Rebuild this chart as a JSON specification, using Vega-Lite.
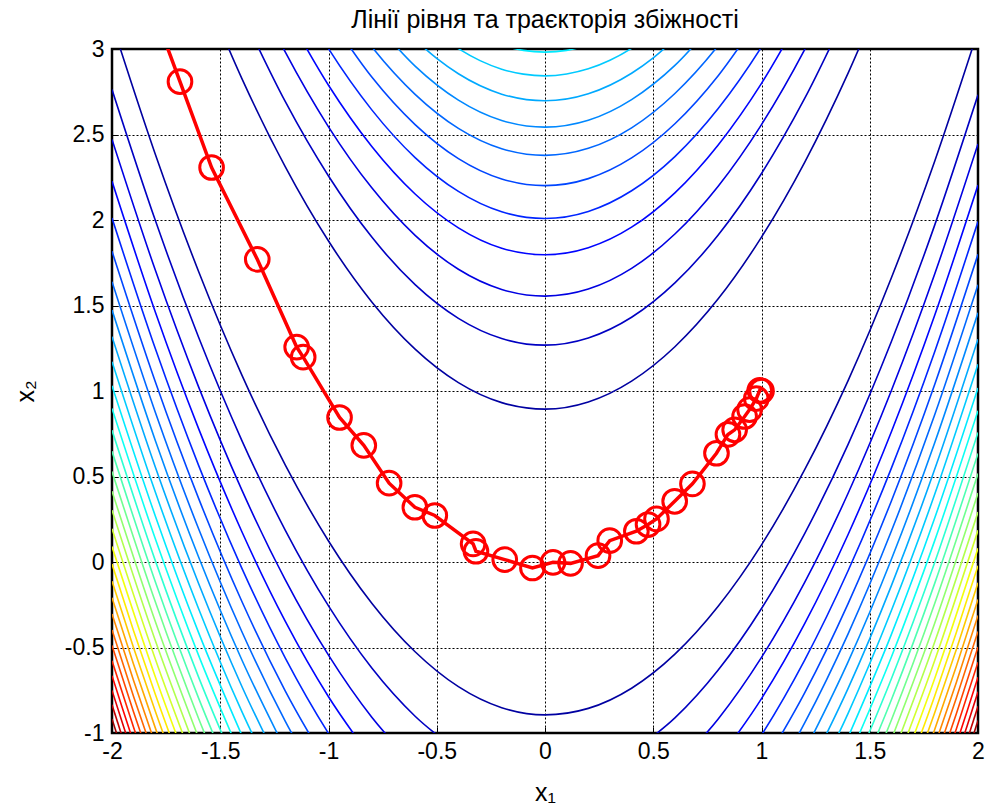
{
  "$schema": "https://vega.github.io/schema/vega-lite/v6.json",
  "width": 866,
  "height": 684,
  "autosize": {"type": "none"},
  "padding": {"left": 112, "top": 49, "right": 12, "bottom": 78},
  "background": "white",
  "title": {"text": "Лінії рівня та траєкторія збіжності", "font": "Liberation Sans", "fontSize": 25, "fontWeight": "normal", "color": "#000", "offset": 5, "anchor": "middle"},
  "config": {
    "view": {"stroke": "#000", "strokeWidth": 2.5},
    "axis": {"grid": true, "gridColor": "#000", "gridDash": [2, 2], "gridOpacity": 1, "gridWidth": 1, "domain": false, "ticks": true, "tickSize": -6, "tickColor": "#000", "tickWidth": 1, "labelFont": "Liberation Sans", "labelFontSize": 23, "labelColor": "#000", "titleFont": "Liberation Sans", "titleFontSize": 25, "titleFontWeight": "normal", "titleColor": "#000", "labelFlush": false, "labelOverlap": false},
    "axisX": {"labelPadding": 13, "titlePadding": 17},
    "axisY": {"labelPadding": 14, "titlePadding": 26}
  },
  "datasets": {
    "contours": [
      {"k":1,"p":"1U","x":-1.6,"y":3.421},{"k":1,"p":"1U","x":-1.4,"y":2.827},{"k":1,"p":"1U","x":-1.2,"y":2.312},{"k":1,"p":"1U","x":-1.0,"y":1.877},{"k":1,"p":"1U","x":-0.8,"y":1.521},{"k":1,"p":"1U","x":-0.6,"y":1.245},{"k":1,"p":"1U","x":-0.4,"y":1.049},{"k":1,"p":"1U","x":-0.2,"y":0.932},{"k":1,"p":"1U","x":0,"y":0.894},{"k":1,"p":"1U","x":0.2,"y":0.936},{"k":1,"p":"1U","x":0.4,"y":1.058},{"k":1,"p":"1U","x":0.6,"y":1.259},{"k":1,"p":"1U","x":0.8,"y":1.539},{"k":1,"p":"1U","x":1.0,"y":1.900},{"k":1,"p":"1U","x":1.2,"y":2.339},{"k":1,"p":"1U","x":1.4,"y":2.859},{"k":1,"p":"1U","x":1.6,"y":3.458},
      {"k":1,"p":"1L","x":-2,"y":3.152},{"k":1,"p":"1L","x":-1.8,"y":2.385},{"k":1,"p":"1L","x":-1.6,"y":1.699},{"k":1,"p":"1L","x":-1.4,"y":1.093},{"k":1,"p":"1L","x":-1.2,"y":0.568},{"k":1,"p":"1L","x":-1.0,"y":0.123},{"k":1,"p":"1L","x":-0.8,"y":-0.241},{"k":1,"p":"1L","x":-0.6,"y":-0.525},{"k":1,"p":"1L","x":-0.4,"y":-0.729},{"k":1,"p":"1L","x":-0.2,"y":-0.852},{"k":1,"p":"1L","x":0,"y":-0.894},{"k":1,"p":"1L","x":0.2,"y":-0.856},{"k":1,"p":"1L","x":0.4,"y":-0.738},{"k":1,"p":"1L","x":0.6,"y":-0.539},{"k":1,"p":"1L","x":0.8,"y":-0.259},{"k":1,"p":"1L","x":1.0,"y":0.100},{"k":1,"p":"1L","x":1.2,"y":0.541},{"k":1,"p":"1L","x":1.4,"y":1.061},{"k":1,"p":"1L","x":1.6,"y":1.662},{"k":1,"p":"1L","x":1.8,"y":2.344},{"k":1,"p":"1L","x":2.0,"y":3.106},
      {"k":2,"p":"2U","x":-1.4,"y":3.210},{"k":2,"p":"2U","x":-1.2,"y":2.693},{"k":2,"p":"2U","x":-1.0,"y":2.257},{"k":2,"p":"2U","x":-0.8,"y":1.900},{"k":2,"p":"2U","x":-0.6,"y":1.622},{"k":2,"p":"2U","x":-0.4,"y":1.425},{"k":2,"p":"2U","x":-0.2,"y":1.307},{"k":2,"p":"2U","x":0,"y":1.268},{"k":2,"p":"2U","x":0.2,"y":1.310},{"k":2,"p":"2U","x":0.4,"y":1.431},{"k":2,"p":"2U","x":0.6,"y":1.632},{"k":2,"p":"2U","x":0.8,"y":1.912},{"k":2,"p":"2U","x":1.0,"y":2.272},{"k":2,"p":"2U","x":1.2,"y":2.712},{"k":2,"p":"2U","x":1.4,"y":3.232},
      {"k":2,"p":"2A","x":-2,"y":2.763},{"k":2,"p":"2A","x":-1.8,"y":1.998},{"k":2,"p":"2A","x":-1.6,"y":1.314},{"k":2,"p":"2A","x":-1.4,"y":0.710},{"k":2,"p":"2A","x":-1.2,"y":0.187},{"k":2,"p":"2A","x":-1.0,"y":-0.257},{"k":2,"p":"2A","x":-0.8,"y":-0.620},{"k":2,"p":"2A","x":-0.6,"y":-0.902},{"k":2,"p":"2A","x":-0.4,"y":-1.105},
      {"k":2,"p":"2B","x":0.4,"y":-1.111},{"k":2,"p":"2B","x":0.6,"y":-0.912},{"k":2,"p":"2B","x":0.8,"y":-0.632},{"k":2,"p":"2B","x":1.0,"y":-0.272},{"k":2,"p":"2B","x":1.2,"y":0.168},{"k":2,"p":"2B","x":1.4,"y":0.688},{"k":2,"p":"2B","x":1.6,"y":1.289},{"k":2,"p":"2B","x":1.8,"y":1.970},{"k":2,"p":"2B","x":2.0,"y":2.732},
      {"k":3,"p":"3U","x":-1.4,"y":3.500},{"k":3,"p":"3U","x":-1.2,"y":2.983},{"k":3,"p":"3U","x":-1.0,"y":2.545},{"k":3,"p":"3U","x":-0.8,"y":2.188},{"k":3,"p":"3U","x":-0.6,"y":1.910},{"k":3,"p":"3U","x":-0.4,"y":1.712},{"k":3,"p":"3U","x":-0.2,"y":1.594},{"k":3,"p":"3U","x":0,"y":1.555},{"k":3,"p":"3U","x":0.2,"y":1.596},{"k":3,"p":"3U","x":0.4,"y":1.717},{"k":3,"p":"3U","x":0.6,"y":1.918},{"k":3,"p":"3U","x":0.8,"y":2.198},{"k":3,"p":"3U","x":1.0,"y":2.558},{"k":3,"p":"3U","x":1.2,"y":2.998},{"k":3,"p":"3U","x":1.4,"y":3.518},
      {"k":3,"p":"3A","x":-2,"y":2.471},{"k":3,"p":"3A","x":-1.8,"y":1.707},{"k":3,"p":"3A","x":-1.6,"y":1.024},{"k":3,"p":"3A","x":-1.4,"y":0.420},{"k":3,"p":"3A","x":-1.2,"y":-0.103},{"k":3,"p":"3A","x":-1.0,"y":-0.545},{"k":3,"p":"3A","x":-0.8,"y":-0.908},{"k":3,"p":"3A","x":-0.6,"y":-1.190},
      {"k":3,"p":"3B","x":0.6,"y":-1.198},{"k":3,"p":"3B","x":0.8,"y":-0.918},{"k":3,"p":"3B","x":1.0,"y":-0.558},{"k":3,"p":"3B","x":1.2,"y":-0.118},{"k":3,"p":"3B","x":1.4,"y":0.402},{"k":3,"p":"3B","x":1.6,"y":1.003},{"k":3,"p":"3B","x":1.8,"y":1.684},{"k":3,"p":"3B","x":2.0,"y":2.445},
      {"k":4,"p":"4U","x":-1.2,"y":3.226},{"k":4,"p":"4U","x":-1.0,"y":2.788},{"k":4,"p":"4U","x":-0.8,"y":2.430},{"k":4,"p":"4U","x":-0.6,"y":2.152},{"k":4,"p":"4U","x":-0.4,"y":1.954},{"k":4,"p":"4U","x":-0.2,"y":1.835},{"k":4,"p":"4U","x":0,"y":1.797},{"k":4,"p":"4U","x":0.2,"y":1.838},{"k":4,"p":"4U","x":0.4,"y":1.958},{"k":4,"p":"4U","x":0.6,"y":2.159},{"k":4,"p":"4U","x":0.8,"y":2.439},{"k":4,"p":"4U","x":1.0,"y":2.799},{"k":4,"p":"4U","x":1.2,"y":3.239},
      {"k":4,"p":"4A","x":-2,"y":2.226},{"k":4,"p":"4A","x":-1.8,"y":1.462},{"k":4,"p":"4A","x":-1.6,"y":0.780},{"k":4,"p":"4A","x":-1.4,"y":0.177},{"k":4,"p":"4A","x":-1.2,"y":-0.346},{"k":4,"p":"4A","x":-1.0,"y":-0.788},{"k":4,"p":"4A","x":-0.8,"y":-1.150},
      {"k":4,"p":"4B","x":0.8,"y":-1.159},{"k":4,"p":"4B","x":1.0,"y":-0.799},{"k":4,"p":"4B","x":1.2,"y":-0.359},{"k":4,"p":"4B","x":1.4,"y":0.161},{"k":4,"p":"4B","x":1.6,"y":0.762},{"k":4,"p":"4B","x":1.8,"y":1.443},{"k":4,"p":"4B","x":2.0,"y":2.204},
      {"k":5,"p":"5U","x":-1.2,"y":3.440},{"k":5,"p":"5U","x":-1.0,"y":3.002},{"k":5,"p":"5U","x":-0.8,"y":2.644},{"k":5,"p":"5U","x":-0.6,"y":2.365},{"k":5,"p":"5U","x":-0.4,"y":2.167},{"k":5,"p":"5U","x":-0.2,"y":2.048},{"k":5,"p":"5U","x":0,"y":2.009},{"k":5,"p":"5U","x":0.2,"y":2.050},{"k":5,"p":"5U","x":0.4,"y":2.171},{"k":5,"p":"5U","x":0.6,"y":2.371},{"k":5,"p":"5U","x":0.8,"y":2.652},{"k":5,"p":"5U","x":1.0,"y":3.012},{"k":5,"p":"5U","x":1.2,"y":3.452},
      {"k":5,"p":"5A","x":-2,"y":2.011},{"k":5,"p":"5A","x":-1.8,"y":1.248},{"k":5,"p":"5A","x":-1.6,"y":0.565},{"k":5,"p":"5A","x":-1.4,"y":-0.037},{"k":5,"p":"5A","x":-1.2,"y":-0.560},{"k":5,"p":"5A","x":-1.0,"y":-1.002},{"k":5,"p":"5A","x":-0.8,"y":-1.364},
      {"k":5,"p":"5B","x":0.8,"y":-1.372},{"k":5,"p":"5B","x":1.0,"y":-1.012},{"k":5,"p":"5B","x":1.2,"y":-0.572},{"k":5,"p":"5B","x":1.4,"y":-0.051},{"k":5,"p":"5B","x":1.6,"y":0.549},{"k":5,"p":"5B","x":1.8,"y":1.230},{"k":5,"p":"5B","x":2.0,"y":1.991},
      {"k":6,"p":"6U","x":-1.0,"y":3.195},{"k":6,"p":"6U","x":-0.8,"y":2.836},{"k":6,"p":"6U","x":-0.6,"y":2.558},{"k":6,"p":"6U","x":-0.4,"y":2.359},{"k":6,"p":"6U","x":-0.2,"y":2.240},{"k":6,"p":"6U","x":0,"y":2.201},{"k":6,"p":"6U","x":0.2,"y":2.242},{"k":6,"p":"6U","x":0.4,"y":2.363},{"k":6,"p":"6U","x":0.6,"y":2.563},{"k":6,"p":"6U","x":0.8,"y":2.844},{"k":6,"p":"6U","x":1.0,"y":3.204},
      {"k":6,"p":"6A","x":-2,"y":1.817},{"k":6,"p":"6A","x":-1.8,"y":1.054},{"k":6,"p":"6A","x":-1.6,"y":0.372},{"k":6,"p":"6A","x":-1.4,"y":-0.231},{"k":6,"p":"6A","x":-1.2,"y":-0.753},{"k":6,"p":"6A","x":-1.0,"y":-1.195},
      {"k":6,"p":"6B","x":1.0,"y":-1.204},{"k":6,"p":"6B","x":1.2,"y":-0.764},{"k":6,"p":"6B","x":1.4,"y":-0.243},{"k":6,"p":"6B","x":1.6,"y":0.357},{"k":6,"p":"6B","x":1.8,"y":1.038},{"k":6,"p":"6B","x":2.0,"y":1.799},
      {"k":7,"p":"7U","x":-1.0,"y":3.372},{"k":7,"p":"7U","x":-0.8,"y":3.013},{"k":7,"p":"7U","x":-0.6,"y":2.735},{"k":7,"p":"7U","x":-0.4,"y":2.536},{"k":7,"p":"7U","x":-0.2,"y":2.417},{"k":7,"p":"7U","x":0,"y":2.378},{"k":7,"p":"7U","x":0.2,"y":2.419},{"k":7,"p":"7U","x":0.4,"y":2.539},{"k":7,"p":"7U","x":0.6,"y":2.740},{"k":7,"p":"7U","x":0.8,"y":3.020},{"k":7,"p":"7U","x":1.0,"y":3.380},
      {"k":7,"p":"7A","x":-2,"y":1.639},{"k":7,"p":"7A","x":-1.8,"y":0.876},{"k":7,"p":"7A","x":-1.6,"y":0.194},{"k":7,"p":"7A","x":-1.4,"y":-0.408},{"k":7,"p":"7A","x":-1.2,"y":-0.930},{"k":7,"p":"7A","x":-1.0,"y":-1.372},
      {"k":7,"p":"7B","x":1.0,"y":-1.380},{"k":7,"p":"7B","x":1.2,"y":-0.940},{"k":7,"p":"7B","x":1.4,"y":-0.420},{"k":7,"p":"7B","x":1.6,"y":0.181},{"k":7,"p":"7B","x":1.8,"y":0.861},{"k":7,"p":"7B","x":2.0,"y":1.622},
      {"k":8,"p":"8U","x":-0.8,"y":3.178},{"k":8,"p":"8U","x":-0.6,"y":2.900},{"k":8,"p":"8U","x":-0.4,"y":2.701},{"k":8,"p":"8U","x":-0.2,"y":2.582},{"k":8,"p":"8U","x":0,"y":2.543},{"k":8,"p":"8U","x":0.2,"y":2.583},{"k":8,"p":"8U","x":0.4,"y":2.704},{"k":8,"p":"8U","x":0.6,"y":2.904},{"k":8,"p":"8U","x":0.8,"y":3.185},
      {"k":8,"p":"8A","x":-2,"y":1.473},{"k":8,"p":"8A","x":-1.8,"y":0.711},{"k":8,"p":"8A","x":-1.6,"y":0.029},{"k":8,"p":"8A","x":-1.4,"y":-0.573},{"k":8,"p":"8A","x":-1.2,"y":-1.095},
      {"k":8,"p":"8B","x":1.2,"y":-1.105},{"k":8,"p":"8B","x":1.4,"y":-0.584},{"k":8,"p":"8B","x":1.6,"y":0.016},{"k":8,"p":"8B","x":1.8,"y":0.697},{"k":8,"p":"8B","x":2.0,"y":1.457},
      {"k":9,"p":"9U","x":-0.6,"y":3.054},{"k":9,"p":"9U","x":-0.5,"y":2.945},{"k":9,"p":"9U","x":-0.4,"y":2.855},{"k":9,"p":"9U","x":-0.2,"y":2.736},{"k":9,"p":"9U","x":0,"y":2.697},{"k":9,"p":"9U","x":0.2,"y":2.738},{"k":9,"p":"9U","x":0.4,"y":2.858},{"k":9,"p":"9U","x":0.5,"y":2.948},{"k":9,"p":"9U","x":0.6,"y":3.059},
      {"k":9,"p":"9A","x":-2,"y":1.318},{"k":9,"p":"9A","x":-1.8,"y":0.556},{"k":9,"p":"9A","x":-1.6,"y":-0.126},{"k":9,"p":"9A","x":-1.4,"y":-0.728},{"k":9,"p":"9A","x":-1.2,"y":-1.250},
      {"k":9,"p":"9B","x":1.2,"y":-1.259},{"k":9,"p":"9B","x":1.4,"y":-0.739},{"k":9,"p":"9B","x":1.6,"y":-0.138},{"k":9,"p":"9B","x":1.8,"y":0.542},{"k":9,"p":"9B","x":2.0,"y":1.303},
      {"k":10,"p":"10U","x":-0.5,"y":3.091},{"k":10,"p":"10U","x":-0.4,"y":3.002},{"k":10,"p":"10U","x":-0.3,"y":2.932},{"k":10,"p":"10U","x":-0.2,"y":2.882},{"k":10,"p":"10U","x":-0.1,"y":2.853},{"k":10,"p":"10U","x":0,"y":2.843},{"k":10,"p":"10U","x":0.1,"y":2.854},{"k":10,"p":"10U","x":0.2,"y":2.884},{"k":10,"p":"10U","x":0.3,"y":2.934},{"k":10,"p":"10U","x":0.4,"y":3.004},{"k":10,"p":"10U","x":0.5,"y":3.095},
      {"k":10,"p":"10A","x":-2,"y":1.171},{"k":10,"p":"10A","x":-1.8,"y":0.409},{"k":10,"p":"10A","x":-1.6,"y":-0.273},{"k":10,"p":"10A","x":-1.4,"y":-0.875},{"k":10,"p":"10A","x":-1.2,"y":-1.396},
      {"k":10,"p":"10B","x":1.2,"y":-1.405},{"k":10,"p":"10B","x":1.4,"y":-0.885},{"k":10,"p":"10B","x":1.6,"y":-0.284},{"k":10,"p":"10B","x":1.8,"y":0.396},{"k":10,"p":"10B","x":2.0,"y":1.157},
      {"k":11,"p":"11U","x":-0.2,"y":3.021},{"k":11,"p":"11U","x":-0.1,"y":2.992},{"k":11,"p":"11U","x":0,"y":2.982},{"k":11,"p":"11U","x":0.1,"y":2.992},{"k":11,"p":"11U","x":0.2,"y":3.023},
      {"k":11,"p":"11A","x":-2,"y":1.031},{"k":11,"p":"11A","x":-1.8,"y":0.269},{"k":11,"p":"11A","x":-1.6,"y":-0.413},{"k":11,"p":"11A","x":-1.4,"y":-1.014},
      {"k":11,"p":"11B","x":1.4,"y":-1.024},{"k":11,"p":"11B","x":1.6,"y":-0.423},{"k":11,"p":"11B","x":1.8,"y":0.257},{"k":11,"p":"11B","x":2.0,"y":1.018},
      {"k":12,"p":"12A","x":-2,"y":0.898},{"k":12,"p":"12A","x":-1.8,"y":0.136},{"k":12,"p":"12A","x":-1.6,"y":-0.546},{"k":12,"p":"12A","x":-1.4,"y":-1.147},
      {"k":12,"p":"12B","x":1.4,"y":-1.156},{"k":12,"p":"12B","x":1.6,"y":-0.556},{"k":12,"p":"12B","x":1.8,"y":0.125},{"k":12,"p":"12B","x":2.0,"y":0.885},
      {"k":13,"p":"13A","x":-2,"y":0.770},{"k":13,"p":"13A","x":-1.8,"y":0.008},{"k":13,"p":"13A","x":-1.6,"y":-0.673},{"k":13,"p":"13A","x":-1.4,"y":-1.275},
      {"k":13,"p":"13B","x":1.4,"y":-1.284},{"k":13,"p":"13B","x":1.6,"y":-0.683},{"k":13,"p":"13B","x":1.8,"y":-0.003},{"k":13,"p":"13B","x":2.0,"y":0.758},
      {"k":14,"p":"14A","x":-2,"y":0.647},{"k":14,"p":"14A","x":-1.8,"y":-0.115},{"k":14,"p":"14A","x":-1.6,"y":-0.796},{"k":14,"p":"14A","x":-1.4,"y":-1.398},
      {"k":14,"p":"14B","x":1.4,"y":-1.406},{"k":14,"p":"14B","x":1.6,"y":-0.806},{"k":14,"p":"14B","x":1.8,"y":-0.125},{"k":14,"p":"14B","x":2.0,"y":0.635},
      {"k":15,"p":"15A","x":-2,"y":0.529},{"k":15,"p":"15A","x":-1.8,"y":-0.233},{"k":15,"p":"15A","x":-1.6,"y":-0.915},{"k":15,"p":"15A","x":-1.4,"y":-1.516},
      {"k":15,"p":"15B","x":1.4,"y":-1.524},{"k":15,"p":"15B","x":1.6,"y":-0.924},{"k":15,"p":"15B","x":1.8,"y":-0.243},{"k":15,"p":"15B","x":2.0,"y":0.517},
      {"k":16,"p":"16A","x":-2,"y":0.414},{"k":16,"p":"16A","x":-1.8,"y":-0.348},{"k":16,"p":"16A","x":-1.6,"y":-1.029},
      {"k":16,"p":"16B","x":1.6,"y":-1.038},{"k":16,"p":"16B","x":1.8,"y":-0.358},{"k":16,"p":"16B","x":2.0,"y":0.403},
      {"k":17,"p":"17A","x":-2,"y":0.303},{"k":17,"p":"17A","x":-1.8,"y":-0.459},{"k":17,"p":"17A","x":-1.6,"y":-1.140},
      {"k":17,"p":"17B","x":1.6,"y":-1.149},{"k":17,"p":"17B","x":1.8,"y":-0.468},{"k":17,"p":"17B","x":2.0,"y":0.292},
      {"k":18,"p":"18A","x":-2,"y":0.195},{"k":18,"p":"18A","x":-1.8,"y":-0.567},{"k":18,"p":"18A","x":-1.6,"y":-1.248},
      {"k":18,"p":"18B","x":1.6,"y":-1.256},{"k":18,"p":"18B","x":1.8,"y":-0.576},{"k":18,"p":"18B","x":2.0,"y":0.185},
      {"k":19,"p":"19A","x":-2,"y":0.090},{"k":19,"p":"19A","x":-1.8,"y":-0.671},{"k":19,"p":"19A","x":-1.6,"y":-1.353},
      {"k":19,"p":"19B","x":1.6,"y":-1.361},{"k":19,"p":"19B","x":1.8,"y":-0.681},{"k":19,"p":"19B","x":2.0,"y":0.080},
      {"k":20,"p":"20A","x":-2,"y":-0.012},{"k":20,"p":"20A","x":-1.9,"y":-0.403},{"k":20,"p":"20A","x":-1.8,"y":-0.774},{"k":20,"p":"20A","x":-1.6,"y":-1.455},
      {"k":20,"p":"20B","x":1.6,"y":-1.463},{"k":20,"p":"20B","x":1.8,"y":-0.783},{"k":20,"p":"20B","x":1.9,"y":-0.412},{"k":20,"p":"20B","x":2.0,"y":-0.022},
      {"k":21,"p":"21A","x":-2,"y":-0.112},{"k":21,"p":"21A","x":-1.9,"y":-0.503},{"k":21,"p":"21A","x":-1.8,"y":-0.873},{"k":21,"p":"21A","x":-1.6,"y":-1.555},
      {"k":21,"p":"21B","x":1.6,"y":-1.562},{"k":21,"p":"21B","x":1.8,"y":-0.882},{"k":21,"p":"21B","x":1.9,"y":-0.512},{"k":21,"p":"21B","x":2.0,"y":-0.122},
      {"k":22,"p":"22A","x":-2,"y":-0.209},{"k":22,"p":"22A","x":-1.9,"y":-0.600},{"k":22,"p":"22A","x":-1.8,"y":-0.970},{"k":22,"p":"22A","x":-1.6,"y":-1.652},
      {"k":22,"p":"22B","x":1.6,"y":-1.659},{"k":22,"p":"22B","x":1.8,"y":-0.979},{"k":22,"p":"22B","x":1.9,"y":-0.609},{"k":22,"p":"22B","x":2.0,"y":-0.219},
      {"k":23,"p":"23A","x":-2,"y":-0.304},{"k":23,"p":"23A","x":-1.9,"y":-0.695},{"k":23,"p":"23A","x":-1.8,"y":-1.065},
      {"k":23,"p":"23B","x":1.8,"y":-1.074},{"k":23,"p":"23B","x":1.9,"y":-0.704},{"k":23,"p":"23B","x":2.0,"y":-0.313},
      {"k":24,"p":"24A","x":-2,"y":-0.397},{"k":24,"p":"24A","x":-1.9,"y":-0.788},{"k":24,"p":"24A","x":-1.8,"y":-1.158},
      {"k":24,"p":"24B","x":1.8,"y":-1.167},{"k":24,"p":"24B","x":1.9,"y":-0.796},{"k":24,"p":"24B","x":2.0,"y":-0.406},
      {"k":25,"p":"25A","x":-2,"y":-0.488},{"k":25,"p":"25A","x":-1.9,"y":-0.879},{"k":25,"p":"25A","x":-1.8,"y":-1.250},
      {"k":25,"p":"25B","x":1.8,"y":-1.258},{"k":25,"p":"25B","x":1.9,"y":-0.887},{"k":25,"p":"25B","x":2.0,"y":-0.497},
      {"k":26,"p":"26A","x":-2,"y":-0.578},{"k":26,"p":"26A","x":-1.9,"y":-0.968},{"k":26,"p":"26A","x":-1.8,"y":-1.339},
      {"k":26,"p":"26B","x":1.8,"y":-1.347},{"k":26,"p":"26B","x":1.9,"y":-0.976},{"k":26,"p":"26B","x":2.0,"y":-0.586},
      {"k":27,"p":"27A","x":-2,"y":-0.665},{"k":27,"p":"27A","x":-1.95,"y":-0.863},{"k":27,"p":"27A","x":-1.9,"y":-1.056},
      {"k":27,"p":"27B","x":1.9,"y":-1.064},{"k":27,"p":"27B","x":1.95,"y":-0.871},{"k":27,"p":"27B","x":2.0,"y":-0.674},
      {"k":28,"p":"28A","x":-2,"y":-0.751},{"k":28,"p":"28A","x":-1.95,"y":-0.949},{"k":28,"p":"28A","x":-1.9,"y":-1.142},
      {"k":28,"p":"28B","x":1.9,"y":-1.150},{"k":28,"p":"28B","x":1.95,"y":-0.957},{"k":28,"p":"28B","x":2.0,"y":-0.759},
      {"k":29,"p":"29A","x":-2,"y":-0.835},{"k":29,"p":"29A","x":-1.95,"y":-1.033},
      {"k":29,"p":"29B","x":1.95,"y":-1.041},{"k":29,"p":"29B","x":2.0,"y":-0.844},
      {"k":30,"p":"30A","x":-2,"y":-0.918},{"k":30,"p":"30A","x":-1.95,"y":-1.116},
      {"k":30,"p":"30B","x":1.95,"y":-1.124},{"k":30,"p":"30B","x":2.0,"y":-0.927}
    ],
    "traj": [
      {"i":0,"x":-1.80,"y":3.20},{"i":1,"x":-1.686,"y":2.809},{"i":2,"x":-1.540,"y":2.307},{"i":3,"x":-1.329,"y":1.770},{"i":4,"x":-1.147,"y":1.257},{"i":5,"x":-1.117,"y":1.198},{"i":6,"x":-0.949,"y":0.845},{"i":7,"x":-0.837,"y":0.682},{"i":8,"x":-0.720,"y":0.461},{"i":9,"x":-0.601,"y":0.320},{"i":10,"x":-0.509,"y":0.272},{"i":11,"x":-0.332,"y":0.106},{"i":12,"x":-0.319,"y":0.063},{"i":13,"x":-0.186,"y":0.014},{"i":14,"x":-0.058,"y":-0.035},{"i":15,"x":0.037,"y":-0.002},{"i":16,"x":0.118,"y":-0.008},{"i":17,"x":0.245,"y":0.037},{"i":18,"x":0.299,"y":0.125},{"i":19,"x":0.422,"y":0.180},{"i":20,"x":0.476,"y":0.219},{"i":21,"x":0.515,"y":0.252},{"i":22,"x":0.599,"y":0.355},{"i":23,"x":0.681,"y":0.457},{"i":24,"x":0.792,"y":0.636},{"i":25,"x":0.845,"y":0.746},{"i":26,"x":0.876,"y":0.773},{"i":27,"x":0.922,"y":0.851},{"i":28,"x":0.945,"y":0.891},{"i":29,"x":0.976,"y":0.955},{"i":30,"x":0.992,"y":1.004},{"i":31,"x":1.0,"y":1.0}
    ]
  },
  "layer": [
    {
      "data": {"name": "contours"},
      "mark": {"type": "line", "interpolate": "monotone", "strokeWidth": 1.6, "clip": true},
      "encoding": {
        "x": {"field": "x", "type": "quantitative", "scale": {"domain": [-2, 2], "nice": false, "zero": false}, "axis": {"values": [-2, -1.5, -1, -0.5, 0, 0.5, 1, 1.5, 2], "title": "x₁", "labelExpr": "'' + datum.value"}},
        "y": {"field": "y", "type": "quantitative", "scale": {"domain": [-1, 3], "nice": false, "zero": false}, "axis": {"values": [-1, -0.5, 0, 0.5, 1, 1.5, 2, 2.5, 3], "title": "x₂", "labelExpr": "'' + datum.value"}},
        "color": {"field": "k", "type": "quantitative", "scale": {"domain": [0, 3.875, 11.625, 19.375, 27.125, 31], "range": ["#000080", "#0000ff", "#00ffff", "#ffff00", "#ff0000", "#800000"], "interpolate": "rgb"}, "legend": null},
        "detail": {"field": "p", "type": "nominal"}
      }
    },
    {
      "data": {"name": "traj"},
      "mark": {"type": "line", "color": "#ff0000", "strokeWidth": 3.5, "clip": true},
      "encoding": {
        "x": {"field": "x", "type": "quantitative"},
        "y": {"field": "y", "type": "quantitative"},
        "order": {"field": "i", "type": "quantitative"}
      }
    },
    {
      "data": {"name": "traj"},
      "mark": {"type": "point", "shape": "circle", "filled": false, "color": "#ff0000", "strokeWidth": 3, "size": 560, "opacity": 1, "clip": true},
      "encoding": {
        "x": {"field": "x", "type": "quantitative"},
        "y": {"field": "y", "type": "quantitative"}
      }
    }
  ]
}
